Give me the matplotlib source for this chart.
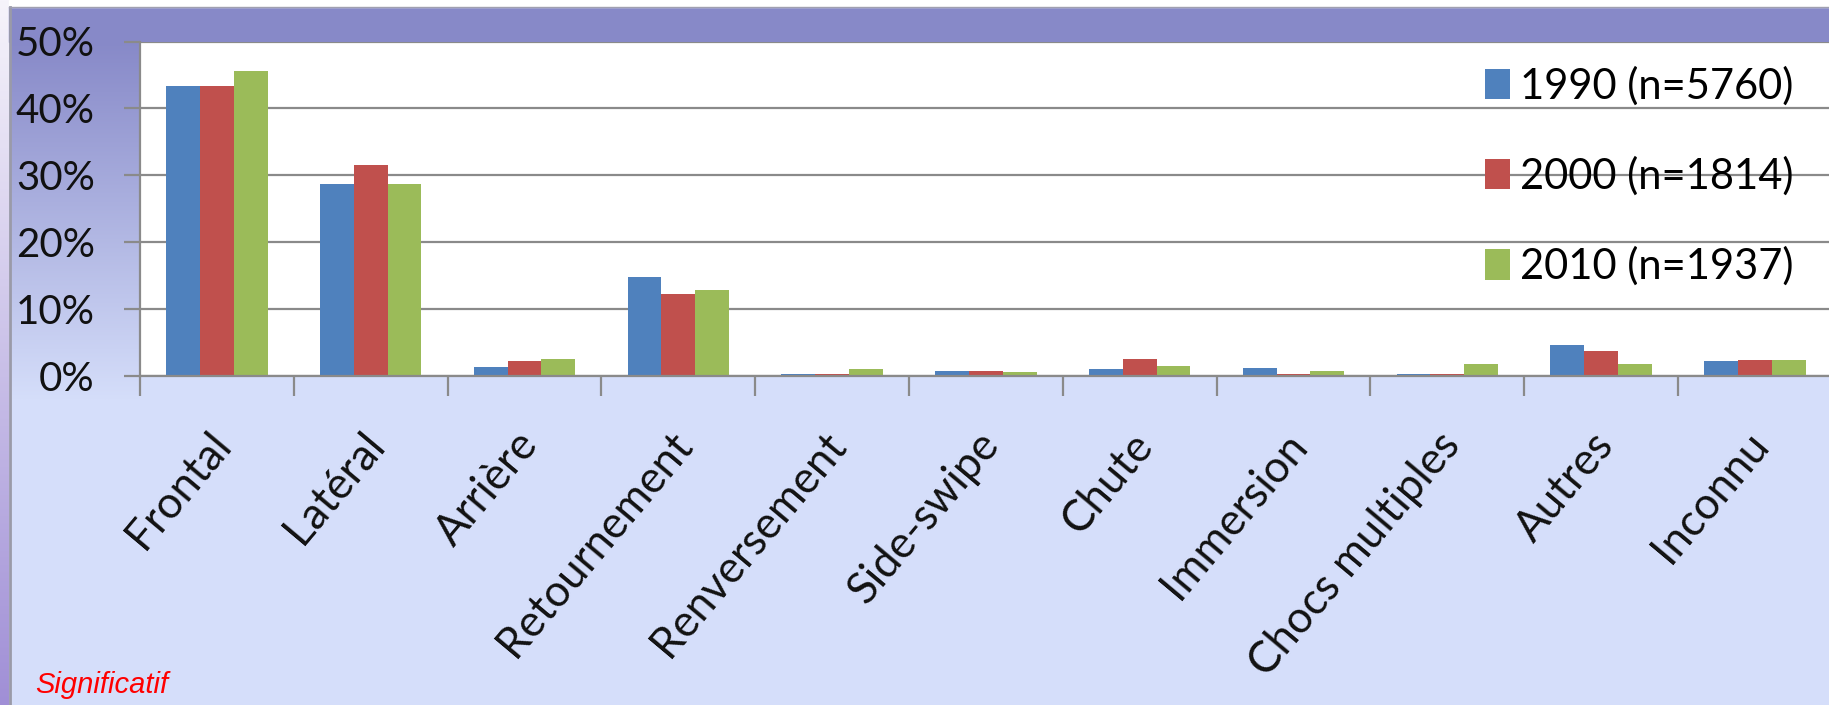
import numpy as np
import matplotlib.pyplot as plt
import matplotlib.transforms as mtransforms
from matplotlib.patches import Rectangle
from matplotlib.colors import to_rgb

# donnees (%)
categories = ['Frontal', 'Latéral', 'Arrière', 'Retournement', 'Renversement', 'Side-swipe',
              'Chute', 'Immersion', 'Chocs multiples', 'Autres', 'Inconnu']
v1990 = [43.4, 28.7, 1.3, 14.8, 0.35, 0.7, 1.0, 1.25, 0.35, 4.6, 2.2]
v2000 = [43.4, 31.6, 2.2, 12.3, 0.35, 0.7, 2.5, 0.35, 0.35, 3.7, 2.4]
v2010 = [45.6, 28.7, 2.5, 12.9, 1.0, 0.65, 1.55, 0.7, 1.85, 1.8, 2.4]
series = ['1990 (n=5760)', '2000 (n=1814)', '2010 (n=1937)']
yticks = [0, 10, 20, 30, 40, 50]

colors = ['#4F81BD', '#C0504D', '#9BBB59']
purple = '#8789c8'
light = '#d5defa'
grey = '#8a8a8a'

plt.rcParams['font.family'] = ['Lato', 'DejaVu Sans']

W, H = 1829, 705
fig = plt.figure(figsize=(W / 100, H / 100), dpi=100)
fig.patch.set_facecolor(light)

# fond façon diapositive
bg = fig.add_axes([0, 0, 1, 1], zorder=0)
bg.axis('off')
t = np.linspace(0, 1, 256)[:, None]
c1, c2 = np.array(to_rgb(purple)), np.array(to_rgb(light))
grad = c1 + (c2 - c1) * t
bg.imshow(grad[:, None, :].repeat(2, axis=1), extent=(10, 140, 400, 41), aspect='auto', zorder=1)
w1, w2 = np.array(to_rgb('#f6f4fb')), np.array(to_rgb('#a08fd6'))
grad2 = w1 + (w2 - w1) * t
bg.imshow(grad2[:, None, :].repeat(2, axis=1), extent=(0, 9, H, 0), aspect='auto', zorder=1)
bg.add_patch(Rectangle((9, 7), W, 35, color=purple, zorder=2))
bg.add_patch(Rectangle((9, 0), W, 7, color='white', zorder=2))
bg.plot([9.5, 9.5], [7, H], color='#9a9aa8', lw=2, zorder=3)
bg.plot([9, W], [7, 7], color='#a0a0b0', lw=1, zorder=3)
bg.set_xlim(0, W)
bg.set_ylim(H, 0)

# graphique
left, right = 140 / W, (140 + 11 * 153.8) / W
bottom, top = (H - 376) / H, (H - 41.5) / H
ax = fig.add_axes([left, bottom, right - left, top - bottom], zorder=1)
ax.set_facecolor('white')

x = np.arange(len(categories))
bw = 0.22
for k, (vals, lab) in enumerate(zip([v1990, v2000, v2010], series)):
    ax.bar(x + (k - 1) * bw, vals, bw, color=colors[k], label=lab, zorder=2)

ax.set_xlim(-0.5, len(categories) - 0.5)
ax.set_ylim(0, 50)
ax.set_yticks(yticks)
ax.set_yticklabels([f'{v}%' for v in yticks])
ax.yaxis.grid(True, color=grey, lw=1.6)
ax.set_axisbelow(True)
for s in ['top', 'right']:
    ax.spines[s].set_visible(False)
for s in ['left', 'bottom']:
    ax.spines[s].set_color(grey)
    ax.spines[s].set_linewidth(1.6)

ax.tick_params(axis='y', length=11.5, width=1.6, color=grey, pad=21, labelsize=29, labelcolor='#111111')
ax.set_xticks(x)
ax.set_xticks(np.arange(-0.5, len(categories), 1), minor=True)
ax.tick_params(axis='x', which='minor', length=14.5, width=1.6, color=grey)
ax.tick_params(axis='x', which='major', length=0, pad=35)
ax.set_xticklabels(categories, rotation=50, ha='right', va='top', rotation_mode='anchor',
                   fontsize=31.5, color='#111111')
offset = mtransforms.ScaledTranslation(-0.10, 0, fig.dpi_scale_trans)
for lbl in ax.get_xticklabels():
    lbl.set_transform(lbl.get_transform() + offset)

ax.legend(loc='upper left', bbox_to_anchor=(1485 / W, 1 - 66 / H), bbox_transform=fig.transFigure,
          frameon=False, fontsize=30, handlelength=0.6, handleheight=0.75, handletextpad=0.25,
          labelspacing=1.22, borderpad=0, borderaxespad=0)

fig.text(35 / W, 1 - 693 / H, 'Significatif', color='red', fontsize=21, style='italic',
         family=['Liberation Sans', 'DejaVu Sans'], ha='left', va='baseline')

fig.savefig('out.png', dpi=100, facecolor=fig.get_facecolor())
